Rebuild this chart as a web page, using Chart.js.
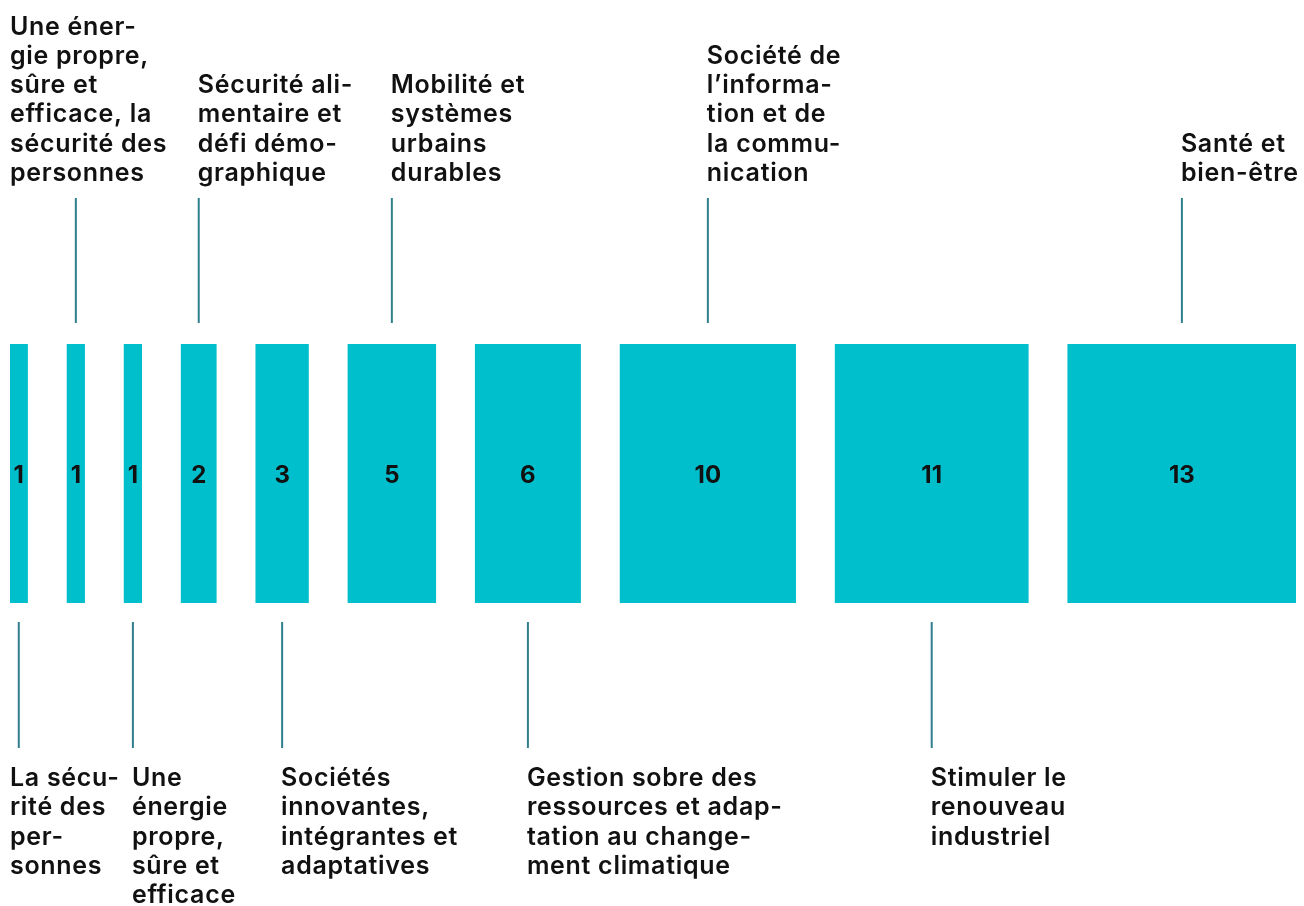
<!DOCTYPE html>
<html lang="fr">
<head>
<meta charset="utf-8">
<title>Défis sociétaux</title>
<script src="https://cdn.jsdelivr.net/npm/chart.js@4"></script>
<style>
  html, body { margin: 0; padding: 0; background: #ffffff; }
  #zone { width: 1304px; height: 906px; }
</style>
</head>
<body>
<div id="zone"><canvas id="graphe"></canvas></div>
<script>
// données

const valeurs = [1, 1, 1, 2, 3, 5, 6, 10, 11, 13];

const libelles = [
    ["La sécu-", "rité des", "per-", "sonnes"],
    ["Une éner-", "gie propre,", "sûre et", "efficace, la", "sécurité des", "personnes"],
    ["Une", "énergie", "propre,", "sûre et", "efficace"],
    ["Sécurité ali-", "mentaire et", "défi démo-", "graphique"],
    ["Sociétés", "innovantes,", "intégrantes et", "adaptatives"],
    ["Mobilité et", "systèmes", "urbains", "durables"],
    ["Gestion sobre des", "ressources et adap-", "tation au change-", "ment climatique"],
    ["Société de", "l’informa-", "tion et de", "la commu-", "nication"],
    ["Stimuler le", "renouveau", "industriel"],
    ["Santé et", "bien-être"]
];

// écart entre deux barres, en unités de valeur
const ecart = 2.25;

// barres flottantes : chaque barre commence après la précédente
var debuts = [];
var cumul = 0;
for (let i = 0; i < valeurs.length; i++) {
    debuts[i] = cumul;
    cumul += valeurs[i] + ecart;
}
const total = cumul - ecart;

var donnees = [];
for (let i = 0; i < valeurs.length; i++) {
    donnees.push({ y: "ligne", x: [debuts[i], debuts[i] + valeurs[i]] });
}

// plugin : chiffres dans les barres, traits et libellés

const POLICE = "Inter, 'Noto Sans', sans-serif";

const etiquettes = {
    id: "etiquettes",
    afterDatasetsDraw(chart) {
        const ctx = chart.ctx;
        const meta = chart.getDatasetMeta(0);
        const zone = chart.chartArea;
        const interligne = 29.3;

        ctx.save();
        meta.data.forEach((barre, i) => {
            const gauche = Math.min(barre.x, barre.base);
            const droite = Math.max(barre.x, barre.base);
            const centre = (gauche + droite) / 2;

            // chiffre
            ctx.fillStyle = "#111111";
            ctx.font = "700 24px " + POLICE;
            ctx.letterSpacing = "0px";
            ctx.textAlign = "center";
            ctx.textBaseline = "middle";
            ctx.fillText(String(valeurs[i]), centre, (zone.top + zone.bottom) / 2 + 2);

            // trait
            const enHaut = (i % 2 == 1);
            ctx.strokeStyle = "#2f7f8c";
            ctx.lineWidth = 2;
            ctx.beginPath();
            if (enHaut) {
                ctx.moveTo(centre, zone.top - 21);
                ctx.lineTo(centre, zone.top - 146);
            } else {
                ctx.moveTo(centre, zone.bottom + 19);
                ctx.lineTo(centre, zone.bottom + 145);
            }
            ctx.stroke();

            // libellé
            const lignes = libelles[i];
            let xTexte = centre - 1;
            if (i < 2) {
                xTexte = zone.left;
            }
            ctx.fillStyle = "#111111";
            ctx.font = "600 25px " + POLICE;
            ctx.letterSpacing = "0.7px";
            ctx.textAlign = "left";
            ctx.textBaseline = "alphabetic";
            for (let k = 0; k < lignes.length; k++) {
                let y;
                if (enHaut) {
                    y = 181 - (lignes.length - 1 - k) * interligne;
                } else {
                    y = 786 + k * interligne;
                }
                ctx.fillText(lignes[k], xTexte, y);
            }
        });
        ctx.restore();
    }
};

var chart = new Chart(document.getElementById("graphe"), {
    type: "bar",
    data: {
        labels: ["ligne"],
        datasets: [{
            data: donnees,
            backgroundColor: "#00bfcc",
            borderWidth: 0,
            categoryPercentage: 1,
            barPercentage: 1
        }]
    },
    options: {
        indexAxis: "y",
        responsive: true,
        maintainAspectRatio: false,
        animation: false,
        layout: { padding: { left: 10, right: 8, top: 344, bottom: 303 } },
        scales: {
            x: { type: "linear", min: 0, max: total, display: false },
            y: { type: "category", display: false }
        },
        plugins: {
            legend: { display: false },
            tooltip: { enabled: false }
        }
    },
    plugins: [etiquettes]
});
</script>
</body>
</html>
